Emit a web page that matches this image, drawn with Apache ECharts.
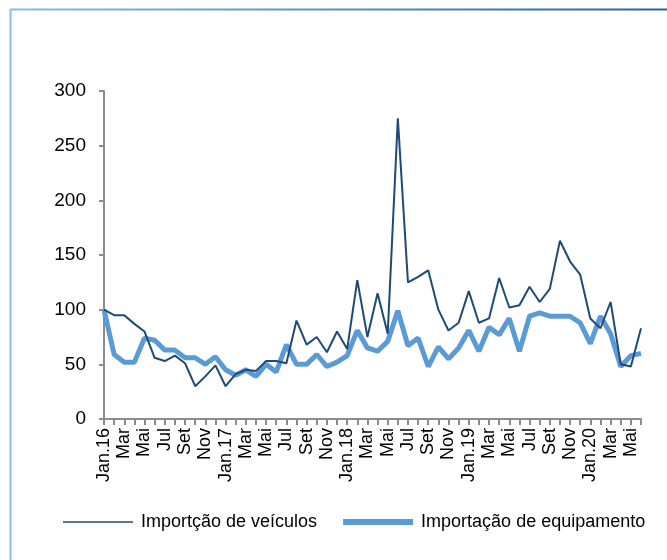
<!DOCTYPE html>
<html>
<head>
<meta charset="utf-8">
<script src="https://cdn.jsdelivr.net/npm/echarts@6/dist/echarts.min.js"></script>
<style>
  html, body { margin: 0; padding: 0; background: #fff; }
  #main { width: 667px; height: 560px; }
</style>
</head>
<body>
<div id="main"></div>
<script>
// meses: Jan.16 .. Jun.20
const months = ['Jan', 'Fev', 'Mar', 'Abr', 'Mai', 'Jun', 'Jul', 'Ago', 'Set', 'Out', 'Nov', 'Dez']
const years = ['16', '17', '18', '19', '20']
const categories = []
years.forEach(y => {
  months.forEach((m, i) => {
    categories.push(i === 0 ? 'Jan.' + y : m)
  })
})
categories.length = 54

const veiculos = [
  100, 95, 95, 87, 80, 56, 53, 58, 51, 30, 39, 49,
  30, 41, 45, 44, 53, 53, 51, 90, 68, 75, 61, 80,
  64, 127, 75, 115, 78, 275, 125, 130, 136, 100, 81, 88,
  117, 88, 92, 129, 102, 104, 121, 107, 119, 163, 144, 132,
  92, 83, 107, 50, 48, 83
]
const equipamento = [
  100, 59, 52, 52, 74, 72, 63, 63, 56, 56, 50, 57,
  45, 40, 45, 39, 50, 43, 68, 50, 50, 59, 48, 52,
  58, 81, 65, 62, 71, 99, 67, 74, 48, 66, 55, 65,
  81, 62, 84, 77, 92, 62, 94, 97, 94, 94, 94, 88,
  69, 94, 78, 48, 58, 60
]
const yTicks = [0, 50, 100, 150, 200, 250, 300]

const font = "'Liberation Sans Narrow', 'Arial Narrow', 'Liberation Sans', sans-serif"
const chart = echarts.init(document.getElementById('main'))
const option = {
  animation: false,
  textStyle: { fontFamily: font },
  graphic: [
    {
      type: 'line',
      shape: { x1: 10, y1: 9.5, x2: 667, y2: 9.5 },
      style: {
        lineWidth: 2,
        stroke: {
          type: 'linear', x: 0, y: 0, x2: 1, y2: 0,
          colorStops: [{ offset: 0, color: '#8dbbe3' }, { offset: 1, color: '#1f62ab' }]
        }
      }
    },
    {
      type: 'line',
      shape: { x1: 10.5, y1: 9, x2: 10.5, y2: 560 },
      style: { lineWidth: 2, stroke: '#8dbbe3' }
    }
  ],
  grid: {
    left: 104,
    right: 26,
    top: 91,
    bottom: 141
  },
  legend: {
    bottom: 24,
    left: 58,
    itemWidth: 70,
    itemHeight: 6,
    itemGap: 26,
    icon: 'rect',
    textStyle: { fontSize: 18, color: '#000', fontFamily: font, padding: [0, 0, 0, 3] },
    data: [
      { name: 'Importção de veículos', itemStyle: { color: '#1d4a78' }, icon: 'path://M0,2.2 L70,2.2 L70,3.8 L0,3.8 Z' },
      { name: 'Importação de equipamento', itemStyle: { color: '#5b9bd5' } }
    ]
  },
  xAxis: {
    type: 'category',
    boundaryGap: false,
    data: categories,
    axisLine: { lineStyle: { color: '#8c8c8c', width: 2 } },
    axisTick: { show: true, interval: 0, length: 6, lineStyle: { color: '#8c8c8c', width: 2 } },
    axisLabel: {
      interval: 1,
      rotate: 90,
      fontSize: 18,
      color: '#000',
      margin: 9,
      fontFamily: font
    }
  },
  yAxis: {
    type: 'value',
    min: 0,
    max: 300,
    interval: 50,
    splitLine: { show: false },
    axisLine: { show: true, lineStyle: { color: '#8c8c8c', width: 2 } },
    axisTick: { show: true, length: 5, lineStyle: { color: '#8c8c8c', width: 2 } },
    axisLabel: {
      fontSize: 19,
      color: '#000',
      margin: 18,
      fontFamily: font,
      formatter: v => yTicks.includes(v) ? String(v) : ''
    }
  },
  series: [
    {
      name: 'Importção de veículos',
      type: 'line',
      data: veiculos,
      symbol: 'none',
      z: 3,
      lineStyle: { color: '#1d4a78', width: 2 },
      itemStyle: { color: '#1d4a78' }
    },
    {
      name: 'Importação de equipamento',
      type: 'line',
      data: equipamento,
      symbol: 'none',
      z: 2,
      lineStyle: { color: '#5b9bd5', width: 5 },
      itemStyle: { color: '#5b9bd5' }
    }
  ]
}
chart.setOption(option)
</script>
</body>
</html>
